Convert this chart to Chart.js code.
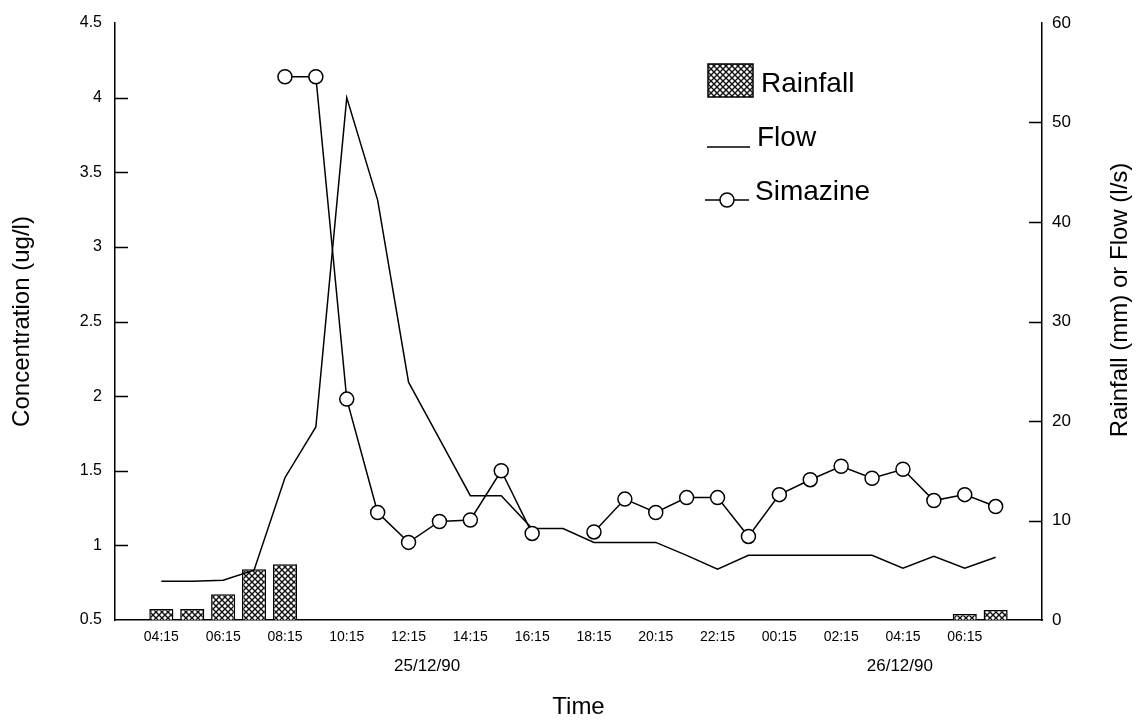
<!DOCTYPE html>
<html lang="en">
<head>
<meta charset="UTF-8">
<title>Simazine, rainfall and flow</title>
<script src="https://cdn.jsdelivr.net/npm/chart.js"></script>
<style>
  html, body { margin: 0; padding: 0; background: #fff; }
  #wrap { width: 1138px; height: 724px; }
</style>
</head>
<body>
<div id="wrap"><canvas id="chart"></canvas></div>
<script>
// hourly samples, one empty slot either side so the axis runs past the data
const times = ['03:15', '04:15', '05:15', '06:15', '07:15', '08:15', '09:15', '10:15', '11:15', '12:15',
               '13:15', '14:15', '15:15', '16:15', '17:15', '18:15', '19:15', '20:15', '21:15', '22:15',
               '23:15', '00:15', '01:15', '02:15', '03:15', '04:15', '05:15', '06:15', '07:15', '08:15'];
const rainfall = [null, 1.1, 1.1, 2.6, 5.1, 5.6, null, null, null, null,
                  null, null, null, null, null, null, null, null, null, null,
                  null, null, null, null, null, null, null, 0.6, 1.0, null];
const flow = [null, 3.9, 3.9, 4.0, 5.0, 14.3, 19.4, 52.5, 42.2, 23.9,
              18.2, 12.5, 12.5, 9.2, 9.2, 7.8, 7.8, 7.8, 6.5, 5.1,
              6.5, 6.5, 6.5, 6.5, 6.5, 5.2, 6.4, 5.2, 6.3, null];
const simazine = [null, null, null, null, null, 4.14, 4.14, 1.98, 1.22, 1.02,
                  1.16, 1.17, 1.50, 1.08, null, 1.09, 1.31, 1.22, 1.32, 1.32,
                  1.06, 1.34, 1.44, 1.53, 1.45, 1.51, 1.30, 1.34, 1.26, null];
const concTicks = [0.5, 1, 1.5, 2, 2.5, 3, 3.5, 4, 4.5];
const rightTicks = [0, 10, 20, 30, 40, 50, 60];
const days = ['25/12/90', '26/12/90'];
const rightTitle = 'Rainfall (mm) or Flow (l/s)';

const FONT = '"Liberation Sans", Arial, Helvetica, sans-serif';
Chart.defaults.font.family = FONT;
Chart.defaults.color = '#000';

function hatch() {
    const c = document.createElement('canvas');
    c.width = 6; c.height = 6;
    const g = c.getContext('2d');
    g.fillStyle = '#fff';
    g.fillRect(0, 0, 6, 6);
    g.strokeStyle = '#111';
    g.lineWidth = 1.4;
    g.beginPath();
    g.moveTo(0, 0); g.lineTo(6, 6);
    g.moveTo(6, 0); g.lineTo(0, 6);
    g.stroke();
    return g.createPattern(c, 'repeat');
}
const rainFill = hatch();

// inward tick marks, date captions, right-hand title and the legend box
const extras = {
    id: 'extras',
    afterDraw(chart) {
        const { ctx } = chart;
        const { x, y, y1 } = chart.scales;
        const dayAt = [9.6, 24.9];
        ctx.save();
        ctx.fillStyle = '#000';
        ctx.strokeStyle = '#000';
        ctx.lineWidth = 1.5;
        ctx.textBaseline = 'middle';

        ctx.beginPath();
        concTicks.slice(1, -1).forEach(v => {
            const py = Math.round(y.getPixelForValue(v)) + 0.5;
            ctx.moveTo(y.right, py); ctx.lineTo(y.right + 13, py);
        });
        rightTicks.slice(1, -1).forEach(v => {
            const py = Math.round(y1.getPixelForValue(v)) + 0.5;
            ctx.moveTo(y1.left, py); ctx.lineTo(y1.left - 13, py);
        });
        ctx.stroke();

        ctx.font = '17px ' + FONT;
        ctx.textAlign = 'center';
        days.forEach((d, i) => ctx.fillText(d, x.getPixelForValue(dayAt[i]), 666));

        ctx.save();
        ctx.font = '24px ' + FONT;
        ctx.translate(1120, 300);
        ctx.rotate(-Math.PI / 2);
        ctx.fillText(rightTitle, 0, 0);
        ctx.restore();

        const ds = chart.data.datasets;
        ctx.font = '28px ' + FONT;
        ctx.textAlign = 'left';

        ctx.fillStyle = rainFill;
        ctx.fillRect(708, 64, 45, 33);
        ctx.strokeRect(708, 64, 45, 33);
        ctx.fillStyle = '#000';
        ctx.fillText(ds[2].label, 761, 84);

        ctx.beginPath();
        ctx.moveTo(707, 147); ctx.lineTo(750, 147);
        ctx.stroke();
        ctx.fillText(ds[1].label, 757, 138);

        ctx.beginPath();
        ctx.moveTo(705, 200); ctx.lineTo(749, 200);
        ctx.stroke();
        ctx.beginPath();
        ctx.arc(727, 200, 7, 0, Math.PI * 2);
        ctx.fillStyle = '#fff';
        ctx.fill();
        ctx.stroke();
        ctx.fillStyle = '#000';
        ctx.fillText(ds[0].label, 755, 192);
        ctx.restore();
    }
};

new Chart(document.getElementById('chart'), {
    data: {
        labels: times,
        datasets: [
            {
                type: 'line', label: 'Simazine', data: simazine, yAxisID: 'y',
                borderColor: '#000', borderWidth: 1.5, tension: 0,
                pointRadius: 7, pointBorderWidth: 1.5,
                pointBackgroundColor: '#fff', pointBorderColor: '#000',
                spanGaps: false, order: 1
            },
            {
                type: 'line', label: 'Flow', data: flow, yAxisID: 'y1',
                borderColor: '#000', borderWidth: 1.5, tension: 0,
                pointRadius: 0, order: 2
            },
            {
                type: 'bar', label: 'Rainfall', data: rainfall, yAxisID: 'y1',
                backgroundColor: rainFill, borderColor: '#000', borderWidth: 1.5,
                barPercentage: 0.78, categoryPercentage: 1, order: 3
            }
        ]
    },
    options: {
        responsive: true,
        maintainAspectRatio: false,
        animation: false,
        layout: { padding: { top: 23, left: 0, right: 0, bottom: 0 } },
        plugins: { legend: { display: false }, tooltip: { enabled: false } },
        scales: {
            x: {
                type: 'category',
                offset: true,
                grid: { display: false, drawTicks: false },
                border: { display: true, color: '#000', width: 1.5 },
                ticks: {
                    autoSkip: false, maxRotation: 0, padding: 9,
                    font: { size: 14 },
                    callback: (v, i) => (i % 2 === 1 && i < times.length - 2) ? times[i] : ''
                },
                title: { display: true, text: 'Time', font: { size: 24 }, padding: { top: 0, bottom: 2 } },
                afterFit: s => { s.height = 104; }
            },
            y: {
                position: 'left',
                min: 0.5, max: 4.5,
                afterBuildTicks: s => { s.ticks = concTicks.map(v => ({ value: v })); },
                grid: { display: false, drawTicks: false },
                border: { display: true, color: '#000', width: 1.5 },
                ticks: { padding: 13, font: { size: 16 }, callback: v => String(v) },
                title: { display: true, text: 'Concentration (ug/l)', font: { size: 24 }, padding: { top: 8, bottom: 0 } },
                afterFit: s => { s.width = 115; }
            },
            y1: {
                position: 'right',
                min: 0, max: 60,
                afterBuildTicks: s => { s.ticks = rightTicks.map(v => ({ value: v })); },
                grid: { display: false, drawTicks: false },
                border: { display: true, color: '#000', width: 1.5 },
                ticks: { padding: 10, font: { size: 17 }, callback: v => String(v) },
                title: { display: false },
                afterFit: s => { s.width = 96; }
            }
        }
    },
    plugins: [extras]
});
</script>
</body>
</html>
